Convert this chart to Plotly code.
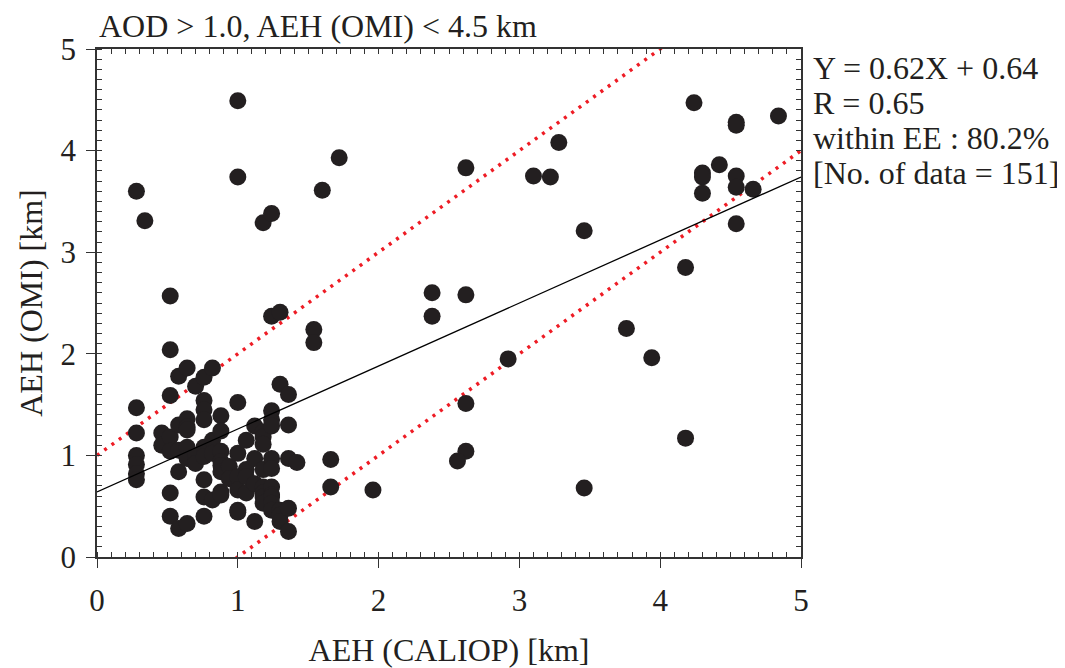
import plotly.graph_objects as go

# AEH (CALIOP) [km]
caliop = [
    0.28, 0.34, 0.28, 0.28, 0.28, 0.28, 0.28, 0.28,
    0.46, 0.46, 0.52, 0.52, 0.52, 0.52, 0.52, 0.52, 0.52,
    0.58, 0.58, 0.58, 0.58, 0.58,
    0.64, 0.64, 0.64, 0.64, 0.64, 0.64, 0.64,
    0.70, 0.70, 0.70,
    0.76, 0.76, 0.76, 0.76, 0.76, 0.76, 0.76, 0.76, 0.76,
    0.82, 0.82, 0.82, 0.82,
    0.88, 0.88, 0.88, 0.88, 0.88, 0.88, 0.88, 0.88,
    0.94, 0.94,
    1.00, 1.00, 1.00, 1.00, 1.00, 1.00, 1.00, 1.00,
    1.06, 1.06, 1.06, 1.06,
    1.12, 1.12, 1.12, 1.12,
    1.18, 1.18, 1.18, 1.18, 1.18, 1.18, 1.18, 1.18, 1.18,
    1.24, 1.24, 1.24, 1.24, 1.24, 1.24, 1.24, 1.24, 1.24, 1.24, 1.24, 1.24,
    1.30, 1.30, 1.30, 1.30, 1.30,
    1.36, 1.36, 1.36, 1.36, 1.36,
    1.42, 1.54, 1.54, 1.60, 1.66, 1.66, 1.72, 1.96,
    2.38, 2.38, 2.62, 2.62, 2.62, 2.62, 2.56, 2.92, 3.10, 3.22,
    3.28, 3.46, 3.46, 3.76, 3.94, 4.18, 4.18, 4.24, 4.30, 4.30,
    4.30, 4.42, 4.54, 4.54, 4.54, 4.54, 4.54, 4.66, 4.84,
]
# AEH (OMI) [km]
omi = [
    3.60, 3.31, 1.47, 1.22, 1.00, 0.91, 0.82, 0.76,
    1.22, 1.10, 1.18, 2.57, 2.04, 1.59, 1.04, 0.63, 0.40,
    1.78, 1.30, 1.05, 0.84, 0.28,
    1.86, 1.36, 1.28, 1.25, 1.08, 0.97, 0.33,
    1.68, 1.00, 0.92,
    1.77, 1.54, 1.45, 1.35, 1.08, 0.99, 0.76, 0.59, 0.40,
    1.86, 1.15, 1.02, 0.56,
    1.39, 1.24, 1.04, 0.94, 0.90, 0.84, 0.64, 0.61,
    0.89, 0.77,
    4.49, 3.74, 1.52, 1.02, 0.79, 0.66, 0.46, 0.44,
    1.15, 0.86, 0.79, 0.63,
    1.29, 0.97, 0.72, 0.35,
    3.29, 1.23, 1.18, 1.11, 0.86, 0.69, 0.63, 0.59, 0.53,
    3.38, 2.37, 1.44, 1.35, 1.29, 0.97, 0.87, 0.69, 0.61, 0.59, 0.53, 0.46,
    2.41, 1.70, 0.46, 0.41, 0.35,
    1.60, 1.30, 0.97, 0.48, 0.25,
    0.93, 2.24, 2.11, 3.61, 0.96, 0.69, 3.93, 0.66,
    2.60, 2.37, 3.83, 2.58, 1.51, 1.04, 0.945, 1.95, 3.75, 3.74,
    4.08, 3.21, 0.68, 2.25, 1.96, 2.85, 1.17, 4.47, 3.78, 3.74,
    3.58, 3.86, 4.28, 4.25, 3.75, 3.64, 3.28, 3.62, 4.34,
]

slope = 0.62
intercept = 0.64
ee = 1.0
x_line = [0, 5]

stats_lines = [
    "Y = 0.62X + 0.64",
    "R = 0.65",
    "within EE : 80.2%",
    "[No. of data = 151]",
]
title_text = "AOD &gt; 1.0, AEH (OMI) &lt; 4.5 km"
x_title = "AEH (CALIOP) [km]"
y_title = "AEH (OMI) [km]"

FONT = "Liberation Serif"
INK = "#231f20"

fig = go.Figure()
fig.add_trace(go.Scatter(
    x=x_line, y=[v + ee for v in x_line], mode="lines",
    line=dict(color="#ee1c25", width=3.5, dash="3px,6px"), showlegend=False, hoverinfo="skip"))
fig.add_trace(go.Scatter(
    x=x_line, y=[v - ee for v in x_line], mode="lines",
    line=dict(color="#ee1c25", width=3.5, dash="3px,6px"), showlegend=False, hoverinfo="skip"))
fig.add_trace(go.Scatter(
    x=caliop, y=omi, mode="markers",
    marker=dict(size=17, color=INK, line=dict(width=0)), showlegend=False))
fig.add_trace(go.Scatter(
    x=x_line, y=[slope * v + intercept for v in x_line], mode="lines",
    line=dict(color="black", width=1.3), showlegend=False, hoverinfo="skip"))
# helper trace for the mirrored (top/right) axes
fig.add_trace(go.Scatter(x=[None], y=[None], xaxis="x2", yaxis="y2", showlegend=False))

axis_common = dict(
    range=[0, 5], dtick=1, tick0=0, showgrid=False, zeroline=False, automargin=False,
    showline=True, linecolor="#333333", linewidth=1.6,
    ticks="outside", ticklen=9, tickwidth=1.4, tickcolor="#333333",
    minor=dict(ticks="inside", dtick=0.1, tick0=0, ticklen=5, tickwidth=1.1, tickcolor="#333333"),
    tickfont=dict(family=FONT, size=31, color=INK),
    title_font=dict(family=FONT, size=32, color=INK),
)
mirror_common = dict(
    range=[0, 5], showgrid=False, zeroline=False, automargin=False,
    showline=True, linecolor="#333333", linewidth=1.6, showticklabels=False,
    ticks="inside", ticklen=5, tickwidth=1.1, tickcolor="#333333", dtick=1,
    minor=dict(ticks="inside", dtick=0.1, ticklen=5, tickwidth=1.1, tickcolor="#333333"),
)
# page body adds an 8px offset, so the figure is 8px smaller than the window
fig.update_layout(
    width=1057, height=660,
    margin=dict(l=89, r=264, t=41, b=111),
    paper_bgcolor="white", plot_bgcolor="white",
    xaxis=dict(**axis_common, title=dict(text=x_title, standoff=22), ticklabelstandoff=6),
    yaxis=dict(**axis_common, title=dict(text=y_title, standoff=8), ticklabelstandoff=4),
    xaxis2=dict(**mirror_common, overlaying="x", side="top", anchor="y2"),
    yaxis2=dict(**mirror_common, overlaying="y", side="right", anchor="x2"),
    font=dict(family=FONT, color=INK),
)

fig.add_annotation(text=title_text, xref="paper", yref="paper", x=0, y=1,
                   xanchor="left", yanchor="bottom", yshift=3, showarrow=False,
                   font=dict(family=FONT, size=32, color=INK))
for i, line in enumerate(stats_lines):
    fig.add_annotation(text=line, xref="paper", yref="paper", x=1, xshift=10,
                       y=1 - (19 + 35 * i) / 508, xanchor="left", yanchor="middle",
                       showarrow=False, font=dict(family=FONT, size=32, color=INK))

fig.write_html("out.html")
